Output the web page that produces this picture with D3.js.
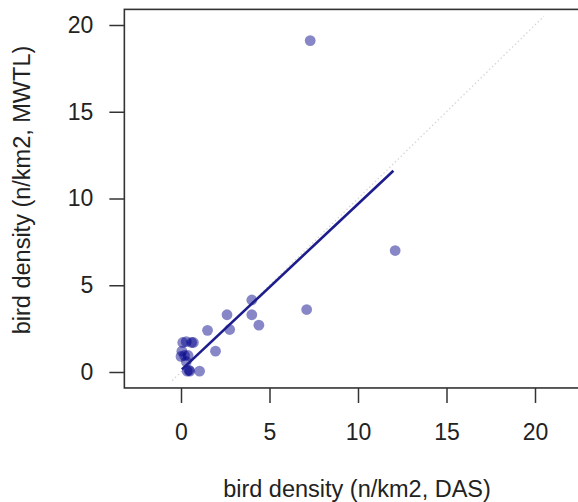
<!DOCTYPE html>
<html>
<head>
<meta charset="utf-8">
<script src="https://cdn.jsdelivr.net/npm/d3@7"></script>
<style>
  html, body { margin: 0; padding: 0; background: #fff; }
  svg { display: block; }
  text { font-family: "Liberation Sans", Arial, sans-serif; fill: #222; }
</style>
</head>
<body>
<svg id="chart" width="578" height="502"></svg>
<script>
// ---- data ----
const dasDensity  = [7.3, 12.1, 7.1, 4.0, 2.6, 4.0, 4.4, 2.75, 1.5, 1.95, 0.1, 0.6, 0.3, 0.05, 0.2, 0.4, 0.3, 0.35, 0.5, 0.45, 1.05, 0.0, 0.7];
const mwtlDensity = [19.1, 7.0, 3.6, 4.15, 3.3, 3.3, 2.7, 2.45, 2.4, 1.2, 1.7, 1.7, 1.75, 1.2, 0.95, 0.95, 0.6, 0.05, 0.05, 0.1, 0.05, 0.9, 1.7];
const fitX = [0.05, 12.0];          // regression line ends (DAS)
const fitY = [0.15, 11.6];          // regression line ends (MWTL)
const oneToOne = [-0.5, 20.5];      // 1:1 reference line
const xTicks = [0, 5, 10, 15, 20];
const yTicks = [0, 5, 10, 15, 20];
const xLim = [-3.2, 23.5];
const yLim = [-0.92, 20.9];
const xTitle = "bird density (n/km2, DAS)";
const yTitle = "bird density (n/km2, MWTL)";

const svg = d3.select("#chart");
const x = d3.scaleLinear().domain([0, 20]).range([181, 535]);
const y = d3.scaleLinear().domain([0, 20]).range([372, 25]);

// 1:1 dotted line
svg.append("line")
  .attr("x1", x(oneToOne[0])).attr("y1", y(oneToOne[0]))
  .attr("x2", x(oneToOne[1])).attr("y2", y(oneToOne[1]))
  .attr("stroke", "#d6d6d6").attr("stroke-width", 1.3)
  .attr("stroke-dasharray", "1.5,2.5");

// points
const pts = dasDensity.map((d, i) => ({x: d, y: mwtlDensity[i]}));
svg.append("g").selectAll("circle").data(pts).join("circle")
  .attr("cx", d => x(d.x)).attr("cy", d => y(d.y)).attr("r", 5.4)
  .attr("fill", "rgb(0,0,139)").attr("fill-opacity", 0.47);

// regression line
svg.append("line")
  .attr("x1", x(fitX[0])).attr("y1", y(fitY[0]))
  .attr("x2", x(fitX[1])).attr("y2", y(fitY[1]))
  .attr("stroke", "#1c1c8c").attr("stroke-width", 2.6);

// frame
svg.append("rect")
  .attr("x", x(xLim[0])).attr("y", y(yLim[1]))
  .attr("width", x(xLim[1]) - x(xLim[0]))
  .attr("height", y(yLim[0]) - y(yLim[1]))
  .attr("fill", "none").attr("stroke", "#333").attr("stroke-width", 1.6);

// axes
const xAxis = d3.axisBottom(x).tickValues(xTicks).tickSize(15).tickPadding(21).tickFormat(d3.format("d"));
const gx = svg.append("g").attr("transform", `translate(0,${y(yLim[0])})`).call(xAxis);
gx.select(".domain").remove();
gx.selectAll("line").attr("stroke", "#333").attr("stroke-width", 1.5);
gx.selectAll("text").attr("font-size", 23).attr("fill", "#222")
  .attr("font-family", "Liberation Sans, Arial, sans-serif");

const yAxis = d3.axisLeft(y).tickValues(yTicks).tickSize(15).tickPadding(16).tickFormat(d3.format("d"));
const gy = svg.append("g").attr("transform", `translate(${x(xLim[0])},0)`).call(yAxis);
gy.select(".domain").remove();
gy.selectAll("line").attr("stroke", "#333").attr("stroke-width", 1.5);
gy.selectAll("text").attr("font-size", 23).attr("fill", "#222")
  .attr("font-family", "Liberation Sans, Arial, sans-serif");

// titles
svg.append("text").attr("x", 357).attr("y", 497)
  .attr("text-anchor", "middle").attr("font-size", 23.5).text(xTitle);
svg.append("text")
  .attr("transform", "translate(30,190) rotate(-90)")
  .attr("text-anchor", "middle").attr("font-size", 23.5).text(yTitle);
</script>
</body>
</html>
